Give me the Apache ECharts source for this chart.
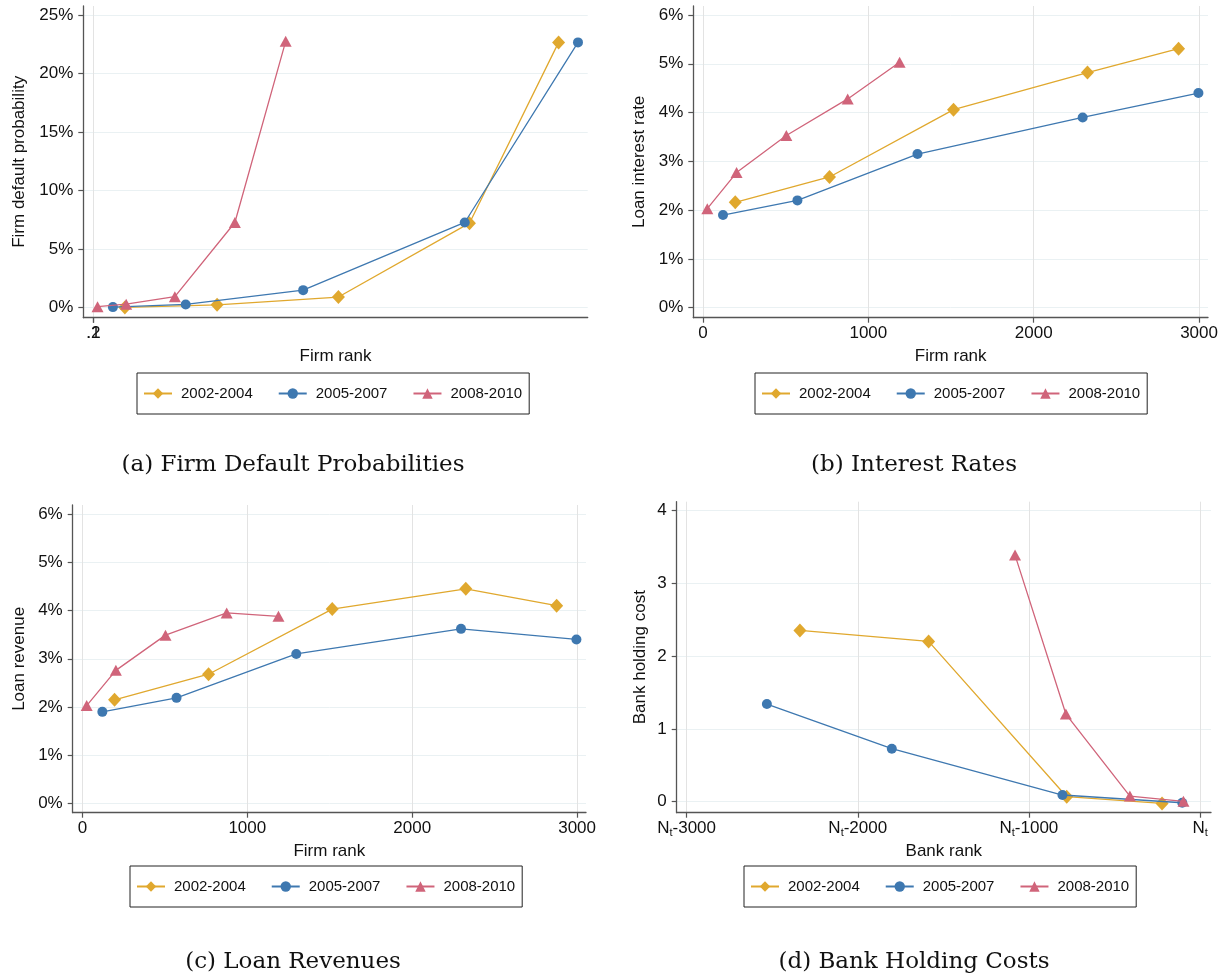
<!DOCTYPE html>
<html><head><meta charset="utf-8">
<script src="https://cdn.jsdelivr.net/npm/echarts@6/dist/echarts.min.js"></script>
<style>html,body{margin:0;padding:0;background:#fff}#c{width:1227px;height:977px}</style>
</head><body><div id="c"></div>
<script>
// ---------- data ----------
const seriesNames = ['2002-2004', '2005-2007', '2008-2010'];
// firm ranks (x) of each rating class, per period
const rank0204 = [195, 765, 1515, 2325, 2876];
const rank0507 = [121, 571, 1297, 2296, 2996];
const rank0810 = [26, 203, 504, 875, 1189];
// (a) firm default probability, %
const pd0204 = [0.02, 0.25, 0.91, 7.22, 22.66];
const pd0507 = [0.05, 0.28, 1.50, 7.28, 22.66];
const pd0810 = [0.09, 0.30, 0.94, 7.28, 22.75];
// (b) loan interest rate, %
const rate0204 = [2.16, 2.68, 4.06, 4.82, 5.31];
const rate0507 = [1.90, 2.20, 3.15, 3.90, 4.40];
const rate0810 = [2.03, 2.77, 3.53, 4.28, 5.03];
// (c) loan revenue, %
const rev0204 = [2.15, 2.68, 4.03, 4.45, 4.10];
const rev0507 = [1.90, 2.19, 3.10, 3.62, 3.40];
const rev0810 = [2.03, 2.76, 3.49, 3.95, 3.88];
// (d) bank rank relative to N_t, and bank holding cost
const bank0204 = [-2338, -1586, -779, -222];
const bank0507 = [-2531, -1801, -804, -104];
const bank0810 = [-1081, -784, -410, -97];
const cost0204 = [2.355, 2.204, 0.069, -0.023];
const cost0507 = [1.342, 0.729, 0.092, -0.014];
const cost0810 = [3.39, 1.205, 0.078, 0.005];
// tick labels
const ticksA_x = [0, 0.1, 0.2, 0.3];
const ticksA_y = [0, 5, 10, 15, 20, 25];
const ticksRank = [0, 1000, 2000, 3000];
const ticksPct6 = [0, 1, 2, 3, 4, 5, 6];
const ticksBank = [-3000, -2000, -1000, 0];
const ticksCost = [0, 1, 2, 3, 4];
const captions = ['(a) Firm Default Probabilities', '(b) Interest Rates', '(c) Loan Revenues', '(d) Bank Holding Costs'];
const yNames = ['Firm default probability', 'Loan interest rate', 'Loan revenue', 'Bank holding cost'];
const xNames = ['Firm rank', 'Firm rank', 'Firm rank', 'Bank rank'];

// ---------- style ----------
const F = '"Liberation Sans", Arial, sans-serif';
const colors = ['#e0a82e', '#3e78b0', '#d0647a'];
const symbols = ['diamond', 'circle', 'triangle'];
const symSizes = [[13, 14], 10, [12, 11]];
const AX = '#555';
const TXT = '#111';

const grids = [
  {left: 83.3, top: 6, width: 504.4, height: 311.7},
  {left: 693.3, top: 6, width: 514.7, height: 311.7},
  {left: 72.7, top: 505, width: 513.3, height: 307.7},
  {left: 676.7, top: 501.7, width: 534.3, height: 311}
];
const xr = [[-62, 3056], [-58.7, 3054], [-58.8, 3054], [-3058, 64]];
const yr = [[-0.854, 25.77], [-0.205, 6.185], [-0.19, 6.187], [-0.151, 4.124]];
const xTicks = [ticksA_x, ticksRank, ticksRank, ticksBank];
const yTicks = [ticksA_y, ticksPct6, ticksPct6, ticksCost];
const yNameGap = [55, 45, 45, 28];

function xFmt(i) {
  if (i === 0) return v => v === 0 ? '0' : String(v).replace(/^0/, '');
  if (i === 3) return v => v === 0 ? '{n|N}{s|t}' : '{n|N}{s|t}{n|-' + (-v) + '}';
  return v => String(v);
}
function yFmt(i) {
  if (i === 3) return v => String(v);
  return v => v + '%';
}

const xAxes = grids.map((g, i) => ({
  type: 'value', gridIndex: i, min: xr[i][0], max: xr[i][1],
  name: xNames[i], nameLocation: 'middle', nameGap: 30,
  nameTextStyle: {fontFamily: F, fontSize: 17, color: TXT},
  axisLine: {onZero: false, lineStyle: {color: AX, width: 1.3}},
  axisTick: {show: true, length: 5, customValues: xTicks[i], lineStyle: {color: AX, width: 1.2}},
  axisLabel: {customValues: xTicks[i], margin: 7, hideOverlap: false, fontFamily: F, fontSize: 17, color: TXT,
    formatter: xFmt(i),
    rich: {n: {fontFamily: F, fontSize: 17, color: TXT, verticalAlign: 'top', lineHeight: 18},
           s: {fontFamily: F, fontSize: 11, color: TXT, verticalAlign: 'top', lineHeight: 12, padding: [8, 0, 0, 0]}}},
  splitLine: {show: true, lineStyle: {color: '#e3e3e3', width: 1}}
}));
const yAxes = grids.map((g, i) => ({
  type: 'value', gridIndex: i, min: yr[i][0], max: yr[i][1],
  name: yNames[i], nameLocation: 'middle', nameGap: yNameGap[i],
  nameTextStyle: {fontFamily: F, fontSize: 17, color: TXT},
  axisLine: {onZero: false, lineStyle: {color: AX, width: 1.3}},
  axisTick: {show: true, length: 5, customValues: yTicks[i], lineStyle: {color: AX, width: 1.2}},
  axisLabel: {customValues: yTicks[i], margin: 10, hideOverlap: false, fontFamily: F, fontSize: 17, color: TXT, formatter: yFmt(i)},
  splitLine: {show: true, lineStyle: {color: '#eaf1f3', width: 1}}
}));

const panelData = [
  [[rank0204, pd0204], [rank0507, pd0507], [rank0810, pd0810]],
  [[rank0204, rate0204], [rank0507, rate0507], [rank0810, rate0810]],
  [[rank0204, rev0204], [rank0507, rev0507], [rank0810, rev0810]],
  [[bank0204, cost0204], [bank0507, cost0507], [bank0810, cost0810]]
];
const series = [];
panelData.forEach((panel, gi) => {
  panel.forEach((pair, si) => {
    series.push({
      type: 'line', name: seriesNames[si], xAxisIndex: gi, yAxisIndex: gi,
      data: pair[0].map((x, k) => [x, pair[1][k]]),
      symbol: symbols[si], symbolSize: symSizes[si], showSymbol: true,
      itemStyle: {color: colors[si]}, lineStyle: {color: colors[si], width: 1.3},
      z: 2 + si, animation: false
    });
  });
});

const legendPos = [[137, 373], [755, 373], [130, 866], [744, 866]];
const legends = legendPos.map(p => ({
  left: p[0], top: p[1], orient: 'horizontal', data: seriesNames,
  itemWidth: 28, itemHeight: 13, itemGap: 25, padding: [13, 7, 13, 6],
  borderColor: '#222', borderWidth: 1, borderRadius: 0, selectedMode: false,
  textStyle: {fontFamily: F, fontSize: 15, color: TXT, padding: [0, 0, 0, 4]}
}));

const capPos = [[293, 465], [914, 465], [293, 962], [914, 962]];
const graphic = captions.map((t, i) => ({
  type: 'text', x: capPos[i][0], y: capPos[i][1],
  style: {text: t, font: '23px "DejaVu Serif", serif', fill: TXT, align: 'center', verticalAlign: 'middle', textAlign: 'center', textVerticalAlign: 'middle'}
}));

const chart = echarts.init(document.getElementById('c'), null, {renderer: 'canvas'});
chart.setOption({
  animation: false, backgroundColor: '#fff',
  grid: grids, xAxis: xAxes, yAxis: yAxes, series, legend: legends, graphic
});
</script></body></html>
